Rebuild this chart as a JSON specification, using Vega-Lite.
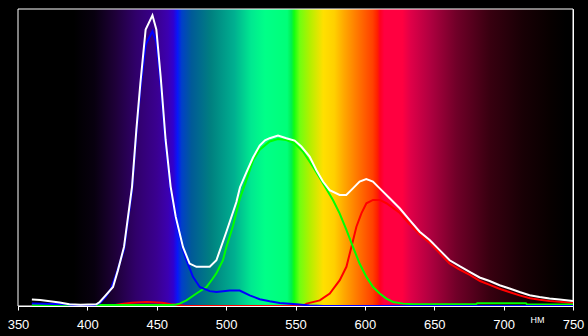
{
  "$schema": "https://vega.github.io/schema/vega-lite/v6.json",
  "autosize": "none",
  "padding": {"left": 18, "top": 9, "right": 15, "bottom": 30},
  "width": 555,
  "height": 297,
  "background": "black",
  "config": {
    "view": {"stroke": "white", "strokeWidth": 1},
    "font": "Liberation Sans"
  },
  "datasets": {
    "band": [{"from": 350, "to": 750}],
    "curves": [
      {"series":"red","nm":360,"v":0},{"series":"red","nm":418,"v":0},{"series":"red","nm":421,"v":0.004},{"series":"red","nm":426,"v":0.008},{"series":"red","nm":432,"v":0.011},{"series":"red","nm":443,"v":0.0135},{"series":"red","nm":454,"v":0.011},{"series":"red","nm":460,"v":0.006},{"series":"red","nm":466,"v":0.003},{"series":"red","nm":471,"v":0},{"series":"red","nm":555,"v":0},{"series":"red","nm":558,"v":0.008},{"series":"red","nm":567.5,"v":0.019},{"series":"red","nm":574.7,"v":0.042},{"series":"red","nm":581.9,"v":0.087},{"series":"red","nm":586.7,"v":0.132},{"series":"red","nm":590.3,"v":0.199},{"series":"red","nm":593.9,"v":0.267},{"series":"red","nm":597.5,"v":0.312},{"series":"red","nm":601.1,"v":0.346},{"series":"red","nm":605.9,"v":0.357},{"series":"red","nm":610.7,"v":0.357},{"series":"red","nm":615.5,"v":0.346},{"series":"red","nm":618,"v":0.338},{"series":"red","nm":625,"v":0.314},{"series":"red","nm":632,"v":0.277},{"series":"red","nm":640,"v":0.239},{"series":"red","nm":647,"v":0.211},{"series":"red","nm":654,"v":0.177},{"series":"red","nm":661,"v":0.143},{"series":"red","nm":668,"v":0.123},{"series":"red","nm":676,"v":0.104},{"series":"red","nm":683,"v":0.084},{"series":"red","nm":690,"v":0.071},{"series":"red","nm":697,"v":0.058},{"series":"red","nm":704,"v":0.047},{"series":"red","nm":712,"v":0.035},{"series":"red","nm":719,"v":0.026},{"series":"red","nm":726,"v":0.021},{"series":"red","nm":733,"v":0.017},{"series":"red","nm":740,"v":0.014},{"series":"red","nm":750,"v":0.01},
      {"series":"green","nm":360,"v":0.003},{"series":"green","nm":460,"v":0.003},{"series":"green","nm":464,"v":0.005},{"series":"green","nm":466.5,"v":0.008},{"series":"green","nm":471.4,"v":0.019},{"series":"green","nm":478.6,"v":0.042},{"series":"green","nm":485.8,"v":0.064},{"series":"green","nm":490,"v":0.09},{"series":"green","nm":493,"v":0.11},{"series":"green","nm":497.7,"v":0.154},{"series":"green","nm":500.2,"v":0.199},{"series":"green","nm":505,"v":0.27},{"series":"green","nm":509.8,"v":0.36},{"series":"green","nm":514.6,"v":0.424},{"series":"green","nm":519.4,"v":0.49},{"series":"green","nm":524.2,"v":0.526},{"series":"green","nm":531.4,"v":0.554},{"series":"green","nm":537.4,"v":0.562},{"series":"green","nm":543.4,"v":0.559},{"series":"green","nm":549.4,"v":0.548},{"series":"green","nm":555.4,"v":0.52},{"series":"green","nm":562.6,"v":0.469},{"series":"green","nm":569.8,"v":0.413},{"series":"green","nm":577,"v":0.357},{"series":"green","nm":581.8,"v":0.312},{"series":"green","nm":586.7,"v":0.256},{"series":"green","nm":591.4,"v":0.199},{"series":"green","nm":596.2,"v":0.143},{"series":"green","nm":601.1,"v":0.098},{"series":"green","nm":605.9,"v":0.064},{"series":"green","nm":610.7,"v":0.042},{"series":"green","nm":615.5,"v":0.025},{"series":"green","nm":620.3,"v":0.0135},{"series":"green","nm":627.5,"v":0.008},{"series":"green","nm":635,"v":0.006},{"series":"green","nm":680,"v":0.006},{"series":"green","nm":681,"v":0.009},{"series":"green","nm":716,"v":0.009},{"series":"green","nm":717,"v":0.005},{"series":"green","nm":750,"v":0.005},
      {"series":"blue","nm":360,"v":0.008},{"series":"blue","nm":385,"v":0.006},{"series":"blue","nm":390,"v":0.003},{"series":"blue","nm":405,"v":0.003},{"series":"blue","nm":409,"v":0.01},{"series":"blue","nm":413,"v":0.03},{"series":"blue","nm":417,"v":0.058},{"series":"blue","nm":421,"v":0.11},{"series":"blue","nm":426.4,"v":0.19},{"series":"blue","nm":432.2,"v":0.39},{"series":"blue","nm":435.3,"v":0.58},{"series":"blue","nm":438.2,"v":0.73},{"series":"blue","nm":442,"v":0.88},{"series":"blue","nm":446.9,"v":0.925},{"series":"blue","nm":449.7,"v":0.89},{"series":"blue","nm":452.8,"v":0.75},{"series":"blue","nm":456.4,"v":0.545},{"series":"blue","nm":460,"v":0.39},{"series":"blue","nm":463.7,"v":0.29},{"series":"blue","nm":468.9,"v":0.19},{"series":"blue","nm":471.4,"v":0.154},{"series":"blue","nm":476.1,"v":0.098},{"series":"blue","nm":481,"v":0.064},{"series":"blue","nm":488.2,"v":0.05},{"series":"blue","nm":493,"v":0.047},{"series":"blue","nm":502.6,"v":0.052},{"series":"blue","nm":509.8,"v":0.052},{"series":"blue","nm":517,"v":0.036},{"series":"blue","nm":524.2,"v":0.023},{"series":"blue","nm":531.4,"v":0.016},{"series":"blue","nm":538.6,"v":0.01},{"series":"blue","nm":550.6,"v":0.006},{"series":"blue","nm":560,"v":0.002},{"series":"blue","nm":570,"v":0},{"series":"blue","nm":750,"v":0},
      {"series":"white","nm":360,"v":0.022},{"series":"white","nm":366,"v":0.02},{"series":"white","nm":373,"v":0.016},{"series":"white","nm":380,"v":0.012},{"series":"white","nm":387,"v":0.006},{"series":"white","nm":395,"v":0.004},{"series":"white","nm":406.5,"v":0.006},{"series":"white","nm":408.9,"v":0.0135},{"series":"white","nm":413,"v":0.035},{"series":"white","nm":418.5,"v":0.064},{"series":"white","nm":422,"v":0.12},{"series":"white","nm":426.4,"v":0.199},{"series":"white","nm":432.2,"v":0.402},{"series":"white","nm":435.3,"v":0.593},{"series":"white","nm":438.2,"v":0.75},{"series":"white","nm":442,"v":0.931},{"series":"white","nm":446.9,"v":0.979},{"series":"white","nm":449.7,"v":0.931},{"series":"white","nm":452.8,"v":0.773},{"series":"white","nm":456.4,"v":0.559},{"series":"white","nm":460,"v":0.402},{"series":"white","nm":463.7,"v":0.3},{"series":"white","nm":468.9,"v":0.199},{"series":"white","nm":473.7,"v":0.143},{"series":"white","nm":478.6,"v":0.132},{"series":"white","nm":488.2,"v":0.132},{"series":"white","nm":493,"v":0.154},{"series":"white","nm":500.2,"v":0.25},{"series":"white","nm":507.4,"v":0.35},{"series":"white","nm":510,"v":0.4},{"series":"white","nm":514.6,"v":0.45},{"series":"white","nm":519.4,"v":0.5},{"series":"white","nm":524.2,"v":0.54},{"series":"white","nm":528,"v":0.558},{"series":"white","nm":531.4,"v":0.565},{"series":"white","nm":537.4,"v":0.574},{"series":"white","nm":543.4,"v":0.565},{"series":"white","nm":549.4,"v":0.557},{"series":"white","nm":554.2,"v":0.537},{"series":"white","nm":560.2,"v":0.503},{"series":"white","nm":565,"v":0.458},{"series":"white","nm":569.8,"v":0.419},{"series":"white","nm":574.6,"v":0.39},{"series":"white","nm":581.8,"v":0.374},{"series":"white","nm":586.6,"v":0.374},{"series":"white","nm":591.4,"v":0.396},{"series":"white","nm":596.2,"v":0.419},{"series":"white","nm":601,"v":0.427},{"series":"white","nm":605.8,"v":0.419},{"series":"white","nm":610.7,"v":0.396},{"series":"white","nm":617.9,"v":0.363},{"series":"white","nm":625.1,"v":0.329},{"series":"white","nm":632.3,"v":0.289},{"series":"white","nm":639.5,"v":0.25},{"series":"white","nm":646.7,"v":0.222},{"series":"white","nm":653.9,"v":0.188},{"series":"white","nm":661.1,"v":0.154},{"series":"white","nm":668.3,"v":0.134},{"series":"white","nm":675.5,"v":0.115},{"series":"white","nm":682.7,"v":0.096},{"series":"white","nm":689.9,"v":0.084},{"series":"white","nm":697.1,"v":0.07},{"series":"white","nm":704.3,"v":0.059},{"series":"white","nm":711.5,"v":0.047},{"series":"white","nm":718.7,"v":0.036},{"series":"white","nm":725.9,"v":0.03},{"series":"white","nm":733.1,"v":0.025},{"series":"white","nm":740.3,"v":0.022},{"series":"white","nm":750,"v":0.017}
    ]
  },
  "layer": [
    {
      "data": {"name": "band"},
      "mark": {
        "type": "rect",
        "stroke": "white",
        "strokeWidth": 1,
        "fill": {
          "gradient": "linear", "x1": 0, "y1": 0, "x2": 1, "y2": 0,
          "stops": [
            {"offset": 0, "color": "#000000"},
            {"offset": 0.1, "color": "#000000"},
            {"offset": 0.1375, "color": "#08000f"},
            {"offset": 0.175, "color": "#1e0038"},
            {"offset": 0.2125, "color": "#30006a"},
            {"offset": 0.25, "color": "#3a0090"},
            {"offset": 0.27, "color": "#3c00b0"},
            {"offset": 0.28, "color": "#3000d0"},
            {"offset": 0.2875, "color": "#0818f8"},
            {"offset": 0.295, "color": "#0040c8"},
            {"offset": 0.3125, "color": "#005a98"},
            {"offset": 0.3475, "color": "#008080"},
            {"offset": 0.39, "color": "#00b090"},
            {"offset": 0.42, "color": "#00e890"},
            {"offset": 0.445, "color": "#00ff88"},
            {"offset": 0.485, "color": "#00ff78"},
            {"offset": 0.4925, "color": "#00f050"},
            {"offset": 0.4975, "color": "#10ff10"},
            {"offset": 0.5075, "color": "#70ff10"},
            {"offset": 0.525, "color": "#b0f000"},
            {"offset": 0.55, "color": "#ffe000"},
            {"offset": 0.57, "color": "#ffd000"},
            {"offset": 0.5875, "color": "#ffa800"},
            {"offset": 0.615, "color": "#ff7000"},
            {"offset": 0.639, "color": "#ff4000"},
            {"offset": 0.6475, "color": "#ff2000"},
            {"offset": 0.6525, "color": "#ff0020"},
            {"offset": 0.66, "color": "#ff0040"},
            {"offset": 0.6925, "color": "#ff0040"},
            {"offset": 0.7075, "color": "#e00048"},
            {"offset": 0.7425, "color": "#b00040"},
            {"offset": 0.79, "color": "#700028"},
            {"offset": 0.85, "color": "#380010"},
            {"offset": 0.91, "color": "#180005"},
            {"offset": 0.9575, "color": "#080000"},
            {"offset": 0.9875, "color": "#000000"},
            {"offset": 1, "color": "#000000"}
          ]
        }
      },
      "encoding": {
        "x": {"field": "from", "type": "quantitative", "scale": {"domain": [350, 750], "nice": false, "zero": false},
          "axis": {
            "values": [350, 400, 450, 500, 550, 600, 650, 700, 750],
            "domainColor": "white", "tickColor": "white", "labelColor": "white",
            "tickSize": 4, "labelFontSize": 13, "labelPadding": 8, "grid": false,
            "labelFlush": false, "labelOverlap": false,
            "labelFont": "Liberation Sans",
            "title": "НМ", "titleColor": "white", "titleFontSize": 9, "titleFontWeight": "normal",
            "titleFont": "Liberation Sans",
            "titleAlign": "left", "titleAnchor": null, "titleX": 512, "titleY": 16.5, "titleBaseline": "alphabetic"
          }},
        "x2": {"field": "to"}
      }
    },
    {
      "data": {"name": "curves"},
      "mark": {"type": "line", "strokeWidth": 2, "clip": true},
      "encoding": {
        "x": {"field": "nm", "type": "quantitative"},
        "y": {"field": "v", "type": "quantitative", "scale": {"domain": [0, 1], "nice": false}, "axis": null},
        "color": {"field": "series", "type": "nominal", "legend": null,
          "scale": {"domain": ["red", "green", "blue", "white"], "range": ["#ff0000", "#00ff00", "#0000ff", "#ffffff"]}},
        "order": {"field": "nm", "type": "quantitative"}
      }
    }
  ]
}
